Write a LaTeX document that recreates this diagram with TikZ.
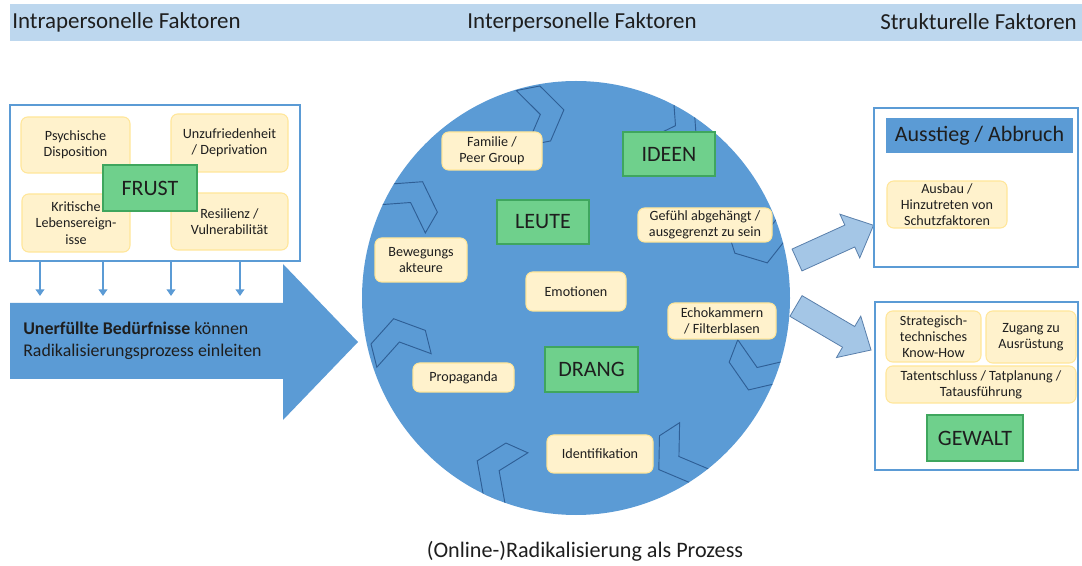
\documentclass[tikz,border=0pt]{standalone}
\usepackage{fontspec}
\setmainfont{Carlito}
\usetikzlibrary{arrows.meta}
\definecolor{hdr}{HTML}{BDD7EE}
\definecolor{bl}{HTML}{5B9BD5}
\definecolor{bldark}{HTML}{2F5F96}
\definecolor{ylf}{HTML}{FFF2CC}
\definecolor{yld}{HTML}{FFE699}
\definecolor{grf}{HTML}{6FD08C}
\definecolor{grd}{HTML}{3FA65E}
\definecolor{lbl}{HTML}{A4C6E6}
\definecolor{txt}{HTML}{1E1E1E}
\begin{document}
\begin{tikzpicture}[x=0.75pt,y=-0.75pt,
  every node/.style={text=txt, inner sep=0pt},
  ybox/.style={draw=yld, fill=ylf, rounded corners=5pt, line width=0.8pt, align=center,
    font=\fontsize{10.6}{12.2}\selectfont},
  gbox/.style={draw=grd, fill=grf, line width=0.8pt, font=\fontsize{16.5}{19}\selectfont},
  frame/.style={draw=bl, line width=1.8pt, fill=white},
  chev/.style={draw=bldark, line width=0.7pt, line join=miter},
  blockarrow/.style={draw=bldark!80, fill=lbl, line width=0.6pt},
  small arrow/.style={draw=bl, line width=1.2pt, -{Triangle[length=5pt,width=6.5pt]}},
  hdrtext/.style={font=\fontsize{17.2}{20}\selectfont, text=txt}
]
\useasboundingbox (0,0) rectangle (1082,566);
\fill[white] (0,0) rectangle (1082,566);

% header band
\fill[hdr] (10,4) rectangle (1082,41);
\node[hdrtext, anchor=west] (h1) at (12,22) {Intrapersonelle Faktoren};
\node[hdrtext] (h2) at (582,22) {Interpersonelle Faktoren};
\node[hdrtext, anchor=east] (h3) at (1077,22) {Strukturelle Faktoren};

% big arrow
\fill[bl] (10,303) -- (283,303) -- (283,264) -- (358,342) -- (283,420) -- (283,379) -- (10,379) -- cycle;
\node[anchor=west, align=left, font=\fontsize{13.4}{16.5}\selectfont] (need) at (23,341)
  {\textbf{Unerfüllte Bedürfnisse} können\\Radikalisierungsprozess einleiten};

% left frame
\node[frame, minimum width=290*0.75, minimum height=156*0.75] (lbox) at (155,183) {};
\node[ybox, minimum width=109*0.75, minimum height=56*0.75] (psy) at (75.5,145) {Psychische\\Disposition};
\node[ybox, minimum width=117*0.75, minimum height=58*0.75] (unz) at (229.5,143) {Unzufriedenheit\\/ Deprivation};
\node[ybox, minimum width=108*0.75, minimum height=58*0.75] (krit) at (76,223) {Kritische\\Lebensereign-\\isse};
\node[ybox, minimum width=117*0.75, minimum height=57*0.75] (res) at (229.5,221.5) {Resilienz /\\Vulnerabilität};
\node[gbox, minimum width=94*0.75, minimum height=46*0.75] (frust) at (150,188) {FRUST};

% small arrows
\foreach \i/\x in {1/40,2/103,3/171,4/240}{
  \coordinate (sa\i) at (\x,261);
  \coordinate (ea\i) at (\x,296);
  \draw[small arrow] (sa\i) -- (ea\i);
}

% circle
\fill[bl] (576,298) ellipse[x radius=160.5pt, y radius=162.75pt];
\begin{scope}
  \clip (576,298) ellipse[x radius=160.5pt, y radius=162.75pt];
  \foreach \a/\r in {101/187, 60/199, 17.5/193, -21/194, -57/189, -114/189, -166/182, 150/191}{
    \draw[chev, shift={(576,298)}, shift={(-\a:\r)}, rotate=\a-90]
      (-19,-28) -- (5,-28) -- (24,0) -- (5,28) -- (-19,28) -- (0,0) -- cycle;
  }
\end{scope}

\node[ybox, minimum width=100*0.75, minimum height=38*0.75] (fam) at (492,151) {Familie /\\Peer Group};
\node[gbox, minimum width=92*0.75, minimum height=44*0.75] (ideen) at (669,154) {IDEEN};
\node[gbox, minimum width=92*0.75, minimum height=44*0.75] (leute) at (543,222) {LEUTE};
\node[ybox, minimum width=134*0.75, minimum height=34*0.75] (gef) at (705,225) {Gefühl abgehängt /\\ausgegrenzt zu sein};
\node[ybox, minimum width=92*0.75, minimum height=44*0.75] (bew) at (421,260) {Bewegungs\\akteure};
\node[ybox, minimum width=100*0.75, minimum height=39*0.75] (emo) at (576,291.5) {Emotionen};
\node[ybox, minimum width=108*0.75, minimum height=36*0.75] (echo) at (722,321) {Echokammern\\/ Filterblasen};
\node[gbox, minimum width=93*0.75, minimum height=45*0.75] (drang) at (591.5,369.5) {DRANG};
\node[ybox, minimum width=101*0.75, minimum height=29*0.75] (prop) at (463.5,377.5) {Propaganda};
\node[ybox, minimum width=106*0.75, minimum height=38*0.75] (ident) at (600,454) {Identifikation};

% block arrows to the right
\begin{scope}[shift={(797,260)}, rotate=24.4]
  \path[blockarrow] (0,-12) -- (58,-12) -- (58,-24) -- (84,0) -- (58,24) -- (58,12) -- (0,12) -- cycle;
\end{scope}
\begin{scope}[shift={(796,306)}, rotate=-30.4]
  \path[blockarrow] (0,-12) -- (61,-12) -- (61,-24) -- (87,0) -- (61,24) -- (61,12) -- (0,12) -- cycle;
\end{scope}

% right top frame
\node[frame, minimum width=204*0.75, minimum height=159*0.75] (abox) at (976,187.5) {};
\node[fill=bl, minimum width=187*0.75, minimum height=35*0.75, font=\fontsize{16.5}{19}\selectfont] (aus) at (979.5,135.5) {Ausstieg / Abbruch};
\node[ybox, minimum width=120*0.75, minimum height=47*0.75] (ausbau) at (947,204.5) {Ausbau /\\Hinzutreten von\\Schutzfaktoren};

% right bottom frame
\node[frame, minimum width=203*0.75, minimum height=168*0.75] (gbox2) at (976.5,386) {};
\node[ybox, minimum width=95*0.75, minimum height=51*0.75] (strat) at (933.5,336.5) {Strategisch-\\technisches\\Know-How};
\node[ybox, minimum width=90*0.75, minimum height=52*0.75] (zug) at (1031,337) {Zugang zu\\Ausrüstung};
\node[ybox, minimum width=190*0.75, minimum height=37*0.75] (tat) at (981,384.5) {Tatentschluss / Tatplanung /\\Tatausführung};
\node[gbox, minimum width=96*0.75, minimum height=46*0.75] (gewalt) at (975,438) {GEWALT};

% caption
\node[font=\fontsize{16.6}{19}\selectfont] (cap) at (585,551) {(Online-)Radikalisierung als Prozess};
\end{tikzpicture}
\end{document}
